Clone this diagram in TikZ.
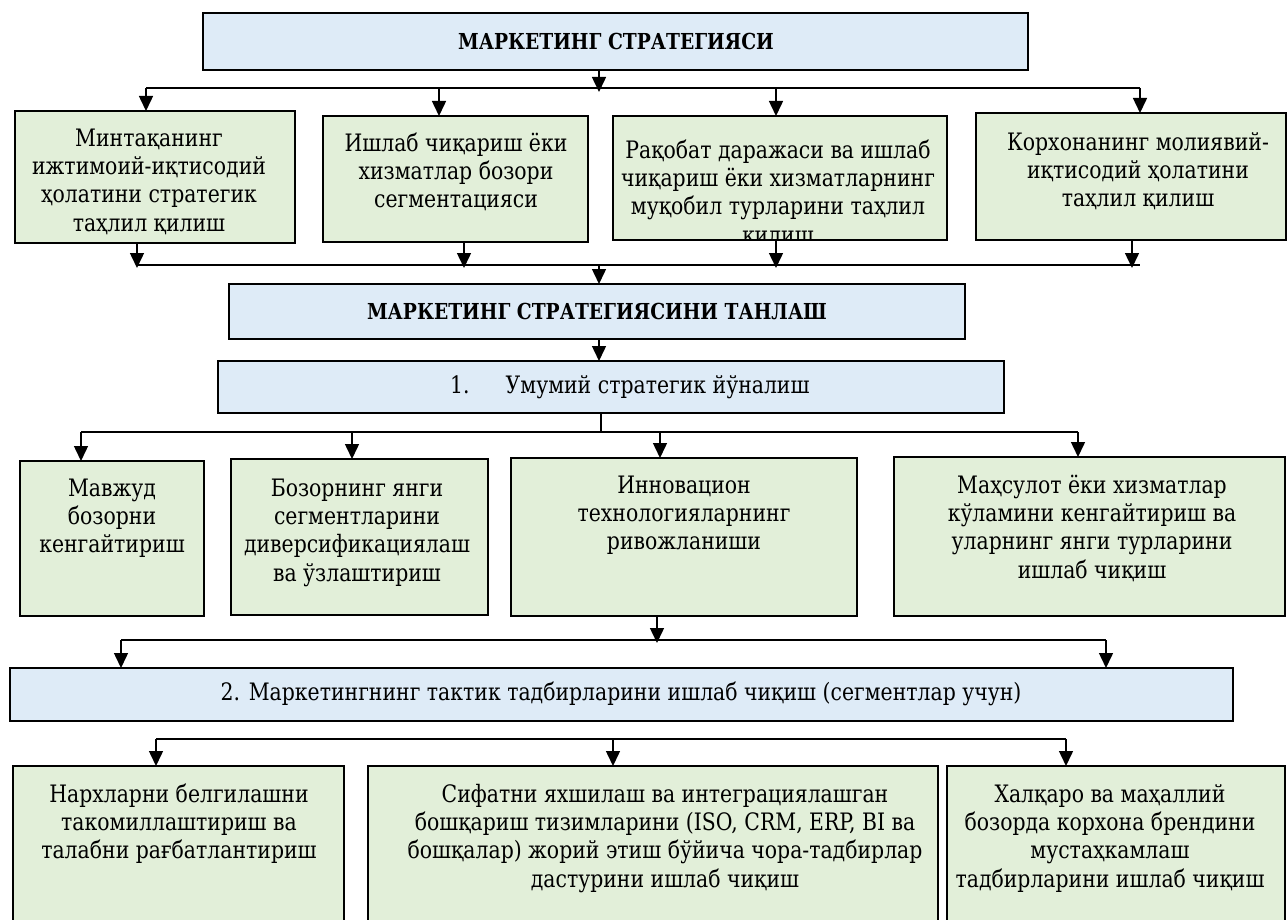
\documentclass[tikz,border=0pt]{standalone}
\usepackage{fontspec}
\setmainfont{DejaVu Serif}[FakeStretch=0.85]
\usetikzlibrary{arrows.meta}
\definecolor{bluebox}{HTML}{DEEBF7}
\definecolor{greenbox}{HTML}{E2EFD9}
\newcommand\bodyfont{\fontsize{24}{28.3}\selectfont}
\newcommand\titlefont{\fontsize{22}{26}\selectfont\bfseries}
\newcommand\fl{\rule{0pt}{24pt}}
\begin{document}
\begin{tikzpicture}[x=1pt,y=-1pt,
  box/.style={draw=black, line width=1.5pt, inner sep=0pt, outer sep=0pt, rectangle},
  bbox/.style={box, fill=bluebox},
  gbox/.style={box, fill=greenbox},
  txt/.style={anchor=north, inner sep=0pt, align=center, font=\bodyfont},
  conn/.style={line width=1.5pt},
  arr/.style={conn, -{Triangle[length=15pt,width=14pt]}},
]
\clip (0,0) rectangle (1287,920);
% ---------- boxes ----------
\node[bbox, minimum width=825pt, minimum height=57pt] (top) at (615.5,41.5) {};
\node[font=\titlefont] (topT) at (616,41) {МАРКЕТИНГ СТРАТЕГИЯСИ};

\node[gbox, minimum width=280pt, minimum height=132pt] (r1a) at (155,177) {};
\node[gbox, minimum width=265pt, minimum height=126pt] (r1b) at (455.5,179) {};
\node[gbox, minimum width=334pt, minimum height=124pt] (r1c) at (780,178) {};
\node[gbox, minimum width=310pt, minimum height=127pt] (r1d) at (1131,176.5) {};

\node[txt] (r1aT) at (149,122) {\fl Минтақанинг\\ижтимоий-иқтисодий\\ҳолатини стратегик\\таҳлил қилиш};
\node[txt] (r1bT) at (456,127) {\fl Ишлаб чиқариш ёки\\хизматлар бозори\\сегментацияси};
\begin{scope}
\clip (r1c.north west) rectangle (r1c.south east);
\node[txt] (r1cT) at (778,134) {\fl Рақобат даражаси ва ишлаб\\чиқариш ёки хизматларнинг\\муқобил турларини таҳлил\\қилиш};
\end{scope}
\draw[line width=1.5pt] (r1c.north west) rectangle (r1c.south east);
\node[txt] (r1dT) at (1138,126) {\fl Корхонанинг молиявий-\\иқтисодий ҳолатини\\таҳлил қилиш};

\node[bbox, minimum width=736pt, minimum height=55pt] (sel) at (597,311.5) {};
\node[font=\titlefont] (selT) at (597,311) {МАРКЕТИНГ СТРАТЕГИЯСИНИ ТАНЛАШ};

\node[bbox, minimum width=786pt, minimum height=52pt] (gen) at (611,387) {};
\node[font=\bodyfont, anchor=west, inner sep=0pt] (genT) at (450,387) {1.\hspace{36pt}Умумий стратегик йўналиш};

\node[gbox, minimum width=184pt, minimum height=155pt] (r2a) at (112,538.5) {};
\node[gbox, minimum width=257pt, minimum height=156pt] (r2b) at (359.5,537) {};
\node[gbox, minimum width=346pt, minimum height=158pt] (r2c) at (684,537) {};
\node[gbox, minimum width=391pt, minimum height=159pt] (r2d) at (1089.5,536.5) {};

\node[txt] (r2aT) at (112,472) {\fl Мавжуд\\бозорни\\кенгайтириш};
\node[txt] (r2bT) at (357,472) {\fl Бозорнинг янги\\сегментларини\\диверсификациялаш\\ва ўзлаштириш};
\node[txt] (r2cT) at (684,469) {\fl Инновацион\\технологияларнинг\\ривожланиши};
\node[txt] (r2dT) at (1092,469) {\fl Маҳсулот ёки хизматлар\\кўламини кенгайтириш ва\\уларнинг янги турларини\\ишлаб чиқиш};

\node[bbox, minimum width=1223pt, minimum height=53pt] (tac) at (621.5,694.5) {};
\node[font=\bodyfont, inner sep=0pt] (tacT) at (621,694) {2. Маркетингнинг тактик тадбирларини ишлаб чиқиш (сегментлар учун)};

\node[gbox, minimum width=331pt, minimum height=180pt] (r3a) at (178.5,856) {};
\node[gbox, minimum width=570pt, minimum height=180pt] (r3b) at (653,856) {};
\node[gbox, minimum width=338pt, minimum height=180pt] (r3c) at (1116,856) {};

\node[txt] (r3aT) at (179,778) {\fl Нархларни белгилашни\\такомиллаштириш ва\\талабни рағбатлантириш};
\node[txt] (r3bT) at (665,778) {\fl Сифатни яхшилаш ва интеграциялашган\\бошқариш тизимларини (ISO, CRM, ERP, BI ва\\бошқалар) жорий этиш бўйича чора-тадбирлар\\дастурини ишлаб чиқиш};
\node[txt] (r3cT) at (1110,778) {\fl Халқаро ва маҳаллий\\бозорда корхона брендини\\мустаҳкамлаш\\тадбирларини ишлаб чиқиш};

% ---------- connectors ----------
% bus 1
\coordinate (a0) at (599,88);
\coordinate (a1) at (146,88);
\coordinate (a2) at (439,88);
\coordinate (a3) at (776,88);
\coordinate (a4) at (1140,88);
\draw[arr] (top.south -| a0) -- ([yshift=-4pt]a0);
\draw[conn] (a1) -- (a4);
\foreach \c/\n in {a1/r1a,a2/r1b,a3/r1c,a4/r1d}
  \draw[arr] (\c) -- (\c |- \n.north);
% bus 2
\coordinate (c0) at (599,265);
\coordinate (c1) at (137,265);
\coordinate (c2) at (464,265);
\coordinate (c3) at (776,265);
\coordinate (c4) at (1132,265);
\coordinate (c5) at (1140,265);
\draw[conn] (c1) -- (c5);
\foreach \c/\n in {c1/r1a,c2/r1b,c3/r1c,c4/r1d}
  \draw[arr] (\c |- \n.south) -- ([yshift=-3pt]\c);
\draw[arr] (c0) -- (c0 |- sel.north);
\draw[arr] (sel.south -| c0) -- (gen.north -| c0);
% bus 3
\coordinate (d0) at (601,432);
\coordinate (d1) at (81,432);
\coordinate (d2) at (352,432);
\coordinate (d3) at (660,432);
\coordinate (d4) at (1078,432);
\draw[conn] (gen.south -| d0) -- (d0);
\draw[conn] (d1) -- (d4);
\foreach \c/\n in {d1/r2a,d2/r2b,d3/r2c,d4/r2d}
  \draw[arr] (\c) -- (\c |- \n.north);
% bus 4
\coordinate (e0) at (657,640);
\coordinate (e1) at (121,640);
\coordinate (e2) at (1106,640);
\draw[arr] (r2c.south -| e0) -- ([yshift=-3pt]e0);
\draw[conn] (e1) -- (e2);
\foreach \c in {e1,e2}
  \draw[arr] (\c) -- (\c |- tac.north);
% bus 5
\coordinate (f1) at (156,739);
\coordinate (f2) at (613,739);
\coordinate (f3) at (1066,739);
\draw[conn] (f1) -- (f3);
\foreach \c/\n in {f1/r3a,f2/r3b,f3/r3c}
  \draw[arr] (\c) -- (\c |- \n.north);
\end{tikzpicture}
\end{document}
